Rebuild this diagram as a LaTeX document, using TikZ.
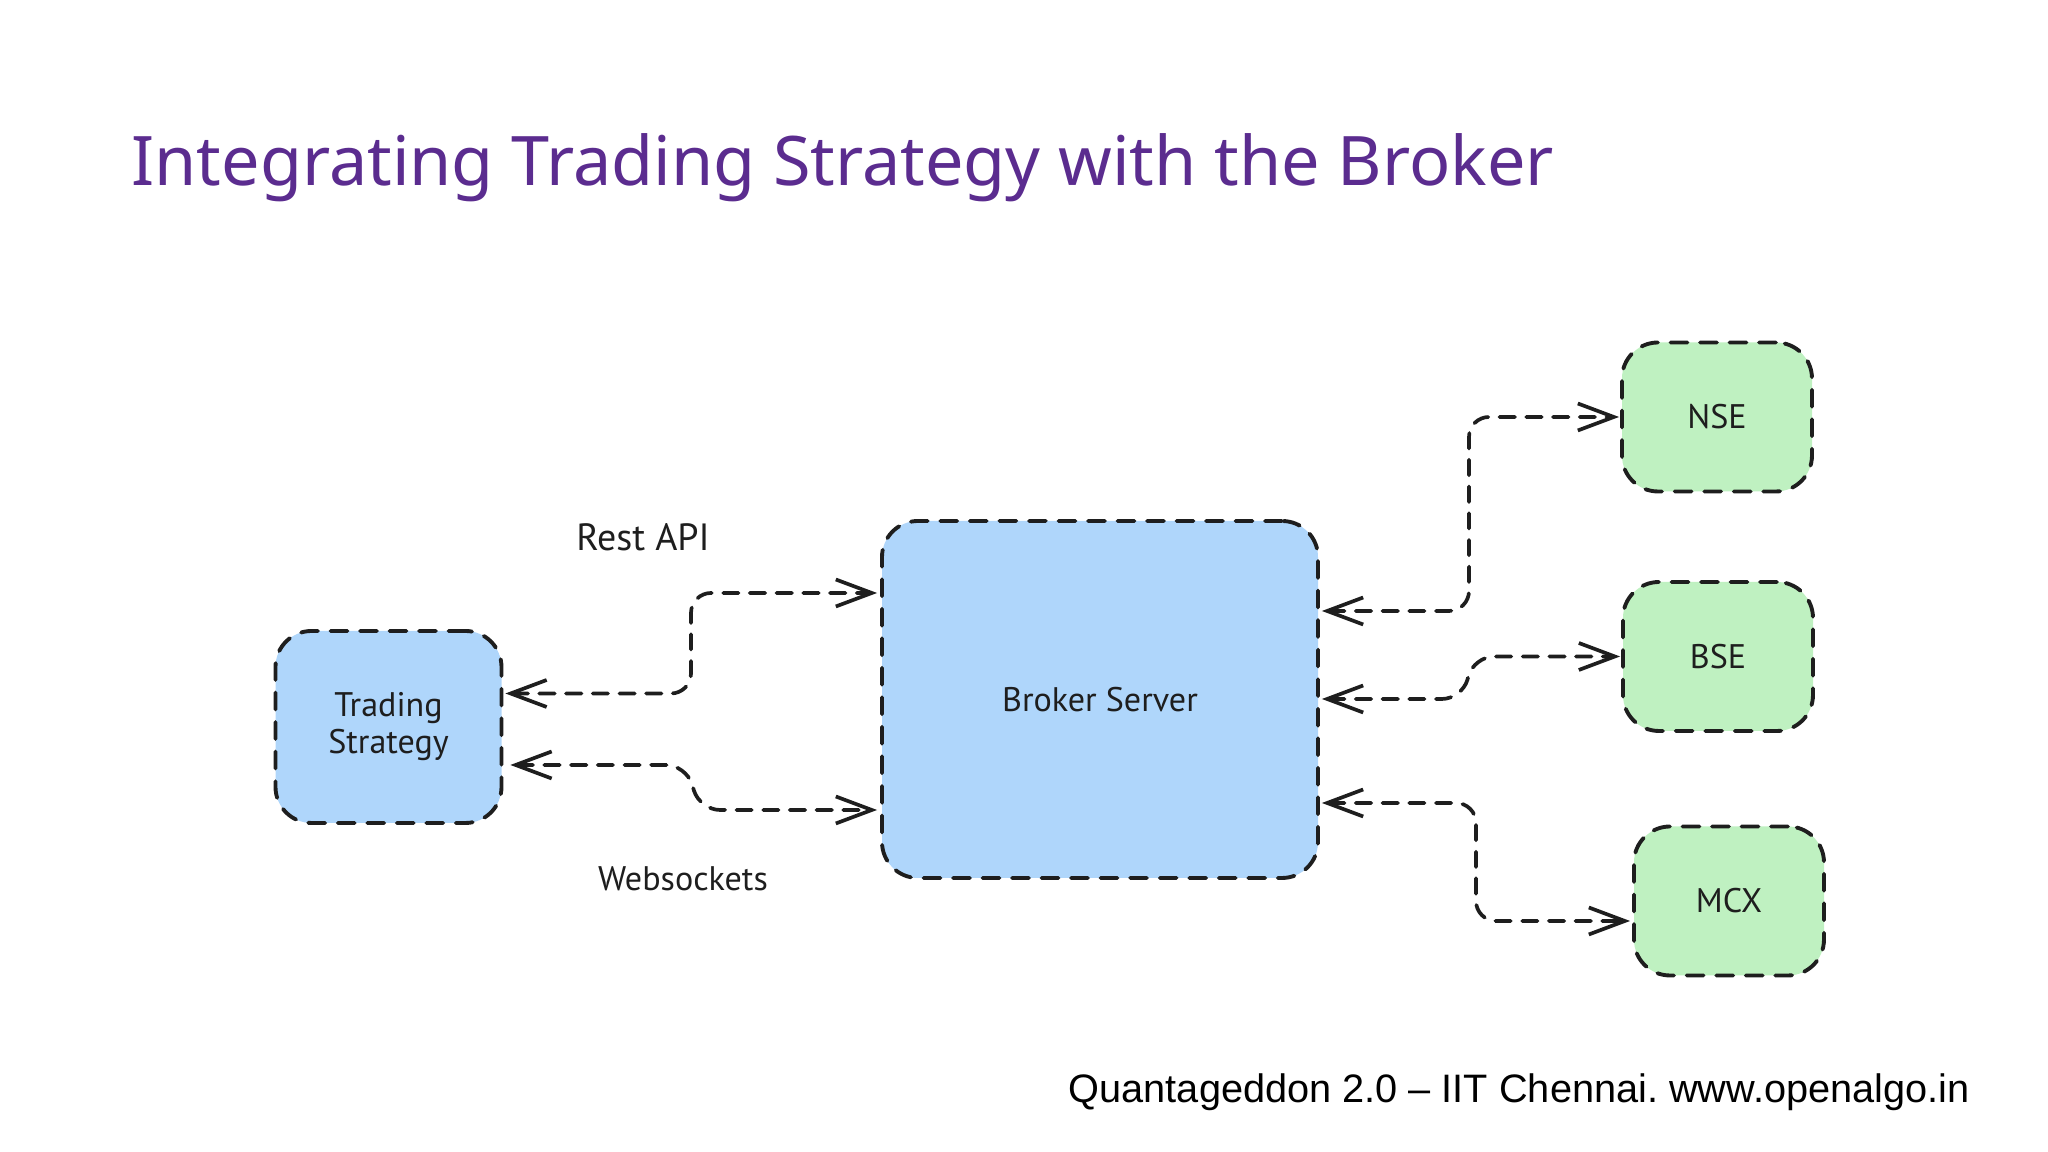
\documentclass[tikz,border=0pt]{standalone}
\usepackage{fontspec}
\setmainfont{PT Sans}
\newfontfamily\titlefont{Noto Sans}
\newfontfamily\footfont{Liberation Sans}
\usetikzlibrary{arrows.meta}
\definecolor{titlepurple}{HTML}{5B2C8F}
\definecolor{serverblue}{HTML}{AFD6FB}
\definecolor{marketgreen}{HTML}{BFF1C1}
\definecolor{inkline}{HTML}{1E1E1E}
\begin{document}
\begin{tikzpicture}[
            box/.style={rectangle,rounded corners=0.36cm,draw=inkline,line width=1.1pt,
                    line cap=round,dash pattern=on 4.8pt off 3.6pt,
                    text=inkline,align=center,font=\fontsize{9.7}{10.5}\selectfont},
            client/.style={box,fill=serverblue,minimum width=2.26cm,minimum height=1.92cm},
            server/.style={box,fill=serverblue,minimum width=4.36cm,minimum height=3.57cm},
            market/.style={box,fill=marketgreen,minimum width=1.9cm,minimum height=1.49cm},
            link/.style={draw=inkline,line width=1.05pt,line cap=round,rounded corners=0.2cm,
                    dash pattern=on 4.4pt off 3.2pt,
                    {Straight Barb[length=3.6mm,width=2.7mm]}-{Straight Barb[length=3.6mm,width=2.7mm]}},
            tag/.style={text=inkline,font=\fontsize{9.7}{12}\selectfont},
        ]
        \useasboundingbox (0,0) rectangle (20.48,11.52);

        % Heading and footer
        \node[anchor=west,text=titlepurple,font=\titlefont\fontsize{19.45}{24}\selectfont] (heading) at (1.19,9.845)
            {Integrating Trading Strategy with the Broker};
        \node[anchor=east,text=black,font=\footfont\fontsize{11.3}{14}\selectfont] (footer) at (19.82,0.6)
            {\frenchspacing Quantageddon 2.0 – IIT Chennai. www.openalgo.in};

        % Blocks
        \node[client] (trading) at (3.885,4.25) {Trading\\Strategy};
        \node[server] (broker) at (11.0,4.525) {Broker Server};
        \node[market] (nse) at (17.17,7.35) {NSE};
        \node[market] (bse) at (17.18,4.955) {BSE};
        \node[market] (mcx) at (17.29,2.51) {MCX};

        % Labels
        \node[tag,font=\fontsize{10.8}{12}\selectfont] (restapi) at (6.43,6.15) {Rest API};
        \node[tag] (websockets) at (6.83,2.73) {Websockets};

        % Connector ends
        \coordinate (restleft) at ([xshift=0.02cm,yshift=0.335cm]trading.east);
        \coordinate (restright) at ([xshift=-0.03cm,yshift=1.065cm]broker.west);
        \coordinate (sockleft) at ([xshift=0.07cm,yshift=-0.38cm]trading.east);
        \coordinate (sockright) at ([xshift=-0.03cm,yshift=-1.105cm]broker.west);
        \coordinate (brokernse) at ([xshift=0.02cm,yshift=0.885cm]broker.east);
        \coordinate (brokerbse) at ([xshift=0.02cm,yshift=0.005cm]broker.east);
        \coordinate (brokermcx) at ([xshift=0.02cm,yshift=-1.035cm]broker.east);
        \coordinate (nseleft) at ([xshift=-0.01cm]nse.west);
        \coordinate (bseleft) at ([xshift=-0.01cm]bse.west);
        \coordinate (mcxleft) at ([xshift=-0.02cm,yshift=-0.2cm]mcx.west);

        % Strategy to broker
        \draw[link] (restleft) -| (6.91,0 |- restright) -- (restright);
        \draw[link] (sockleft) -- (6.86,0 |- sockleft) -- (7.0,0 |- sockright) -- (sockright);

        % Broker to exchanges
        \draw[link] (brokernse) -| (14.69,0 |- nseleft) -- (nseleft);
        \draw[link] (brokerbse) -- (14.62,0 |- brokerbse) -- (14.74,0 |- bseleft) -- (bseleft);
        \draw[link] (brokermcx) -| (14.76,0 |- mcxleft) -- (mcxleft);

    \end{tikzpicture}
\end{document}
